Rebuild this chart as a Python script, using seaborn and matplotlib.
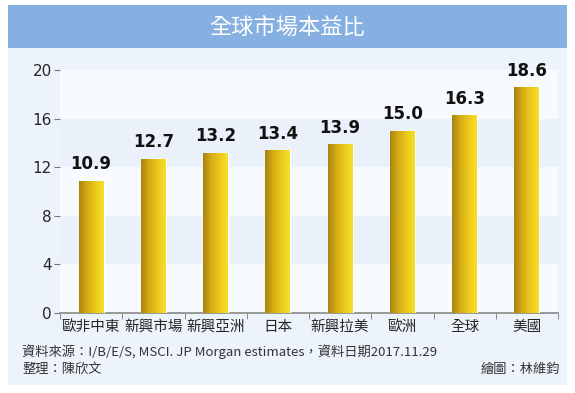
import matplotlib
matplotlib.use('Agg')
import matplotlib.pyplot as plt
from matplotlib.colors import LinearSegmentedColormap
from matplotlib.patches import Rectangle
import numpy as np
import pandas as pd
import seaborn as sns

# data
markets = ['歐非中東', '新興市場', '新興亞洲', '日本', '新興拉美', '歐洲', '全球', '美國']
pe = [10.9, 12.7, 13.2, 13.4, 13.9, 15.0, 16.3, 18.6]
yticks = [0, 4, 8, 12, 16, 20]

title = '全球市場本益比'
source = '資料來源：I/B/E/S, MSCI. JP Morgan estimates，資料日期2017.11.29'
editor = '整理：陳欣文'
artist = '繪圖：林維鈞'

sns.set_style('white')
plt.rcParams['font.family'] = ['Noto Sans CJK TC', 'DejaVu Sans']

W, H = 575, 393
fig = plt.figure(figsize=(W / 100, H / 100), dpi=100)
fig.patch.set_facecolor('white')

# panel + title band
fig.patches.append(Rectangle((8 / W, 8 / H), 559 / W, 380 / H, transform=fig.transFigure,
                             facecolor='#edf3fb', edgecolor='none', zorder=-2))
fig.patches.append(Rectangle((8 / W, (H - 48) / H), 559 / W, 43 / H, transform=fig.transFigure,
                             facecolor='#86b0e2', edgecolor='none', zorder=-1))
fig.text(0.5, (H - 27) / H, title, color='white', fontsize=16, ha='center', va='center')

ax = fig.add_axes([60 / W, (H - 313) / H, (558 - 60) / W, (313 - 70) / H])
ax.set_facecolor('none')

df = pd.DataFrame({'market': markets, 'pe': pe})
sns.barplot(data=df, x='market', y='pe', order=markets, width=0.4, color='#e0b81a', ax=ax,
            zorder=3)
bars = list(ax.patches)

# stripes
for i in range(len(yticks) - 1):
    col = '#f7faff' if i % 2 == 0 else '#eaf1fa'
    ax.axhspan(yticks[i], yticks[i + 1], color=col, zorder=0, lw=0)

# gradient fill on bars
cmap = LinearSegmentedColormap.from_list('gold', ['#a88410', '#d6ac14', '#ebc91c', '#f6de2c'])
grad = np.linspace(0, 1, 64).reshape(1, -1)
for p in bars:
    x0, y0 = p.get_x(), p.get_y()
    w, h = p.get_width(), p.get_height()
    im = ax.imshow(grad, cmap=cmap, aspect='auto', extent=[x0, x0 + w, y0, y0 + h], zorder=4)
    im.set_clip_path(p)
    ax.text(x0 + w / 2, y0 + h + 0.6, f'{h:.1f}', ha='center', va='bottom', fontsize=12,
            fontweight='bold', color='#111111', family='DejaVu Sans', zorder=5)

ax.set_xlim(-0.5, len(markets) - 0.5)
ax.set_ylim(0, 20)
ax.set_yticks(yticks)
ax.set_xlabel('')
ax.set_ylabel('')
ax.tick_params(axis='y', length=4, color='#777777', labelsize=11, pad=2, left=True)
ax.tick_params(axis='x', length=0, labelsize=10.5, pad=5)
ax.set_xticks(np.arange(-0.5, len(markets), 1), minor=True)
ax.tick_params(axis='x', which='minor', length=4, color='#777777', bottom=True, direction='out')
for lab in ax.get_yticklabels():
    lab.set_family('DejaVu Sans')
sns.despine(ax=ax, left=True, top=True, right=True)
ax.spines['bottom'].set_color('#888888')
ax.spines['bottom'].set_linewidth(1.2)

fig.text(22 / W, (H - 352) / H, source, fontsize=9.5, color='#333333', ha='left', va='center')
fig.text(22 / W, (H - 369) / H, editor, fontsize=9.5, color='#333333', ha='left', va='center')
fig.text(560 / W, (H - 369) / H, artist, fontsize=9.5, color='#333333', ha='right', va='center')

fig.savefig('out.png', dpi=100)
